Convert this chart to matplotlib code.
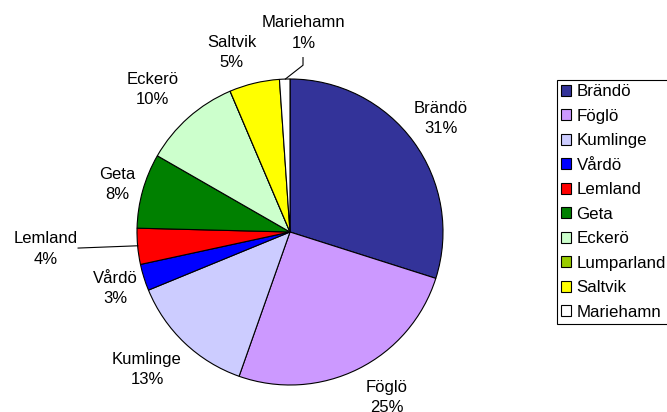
import matplotlib
matplotlib.use('Agg')
from matplotlib import pyplot as plt
import numpy as np

plt.rcParams['font.family'] = ['Liberation Sans', 'DejaVu Sans']

names = ['Brändö', 'Föglö', 'Kumlinge', 'Vårdö', 'Lemland', 'Geta',
         'Eckerö', 'Lumparland', 'Saltvik', 'Mariehamn']
shares = [29.9, 25.5, 13.4, 2.8, 3.8, 7.9, 10.3, 0.0, 5.3, 1.1]
pct_labels = ['31%', '25%', '13%', '3%', '4%', '8%', '10%', '', '5%', '1%']
colors = ['#333399', '#CC99FF', '#CCCCFF', '#0000FF', '#FF0000', '#008000',
          '#CCFFCC', '#99CC00', '#FFFF00', '#FFFFFF']

# label placement (data units, radius 1 pie)
label_pos = {
    'Brändö': (0.985, 0.74), 'Föglö': (0.63, -1.08), 'Kumlinge': (-0.935, -0.90),
    'Vårdö': (-1.14, -0.37), 'Lemland': (-1.60, -0.11), 'Geta': (-1.13, 0.31),
    'Eckerö': (-0.90, 0.93), 'Saltvik': (-0.38, 1.175), 'Mariehamn': (0.09, 1.30),
}

W, H = 667, 412
fig = plt.figure(figsize=(W / 100, H / 100), dpi=100)
cx, cy, r = 290, 232, 153
ax = fig.add_axes([(cx - r) / W, (H - cy - r) / H, 2 * r / W, 2 * r / H])

wedges, _ = ax.pie(shares, colors=colors, startangle=90, counterclock=False,
                   wedgeprops=dict(edgecolor='black', linewidth=0.8))
ax.set_xlim(-1, 1)
ax.set_ylim(-1, 1)
ax.set_aspect('equal')

for name, pct in zip(names, pct_labels):
    if not pct:
        continue
    x, y = label_pos[name]
    ax.text(x, y, name + '\n' + pct, ha='center', va='center', fontsize=12,
            linespacing=1.45, clip_on=False)

# leader lines
ax.plot([-0.03, 0.085, 0.085], [1.0, 1.09, 1.14], color='black', lw=0.8, clip_on=False)
ax.plot([-1.385, -0.995], [-0.105, -0.09], color='black', lw=0.8, clip_on=False)

leg = fig.legend(wedges, names, loc='upper left',
                 bbox_to_anchor=(557 / W, 1 - 80 / H), fontsize=12.2,
                 frameon=True, fancybox=False, edgecolor='black', framealpha=1,
                 handlelength=0.6, handleheight=0.6, handletextpad=0.3,
                 labelspacing=0.56, borderpad=0.25, borderaxespad=0)
leg.get_frame().set_linewidth(0.8)

fig.savefig('out.png', dpi=100)
